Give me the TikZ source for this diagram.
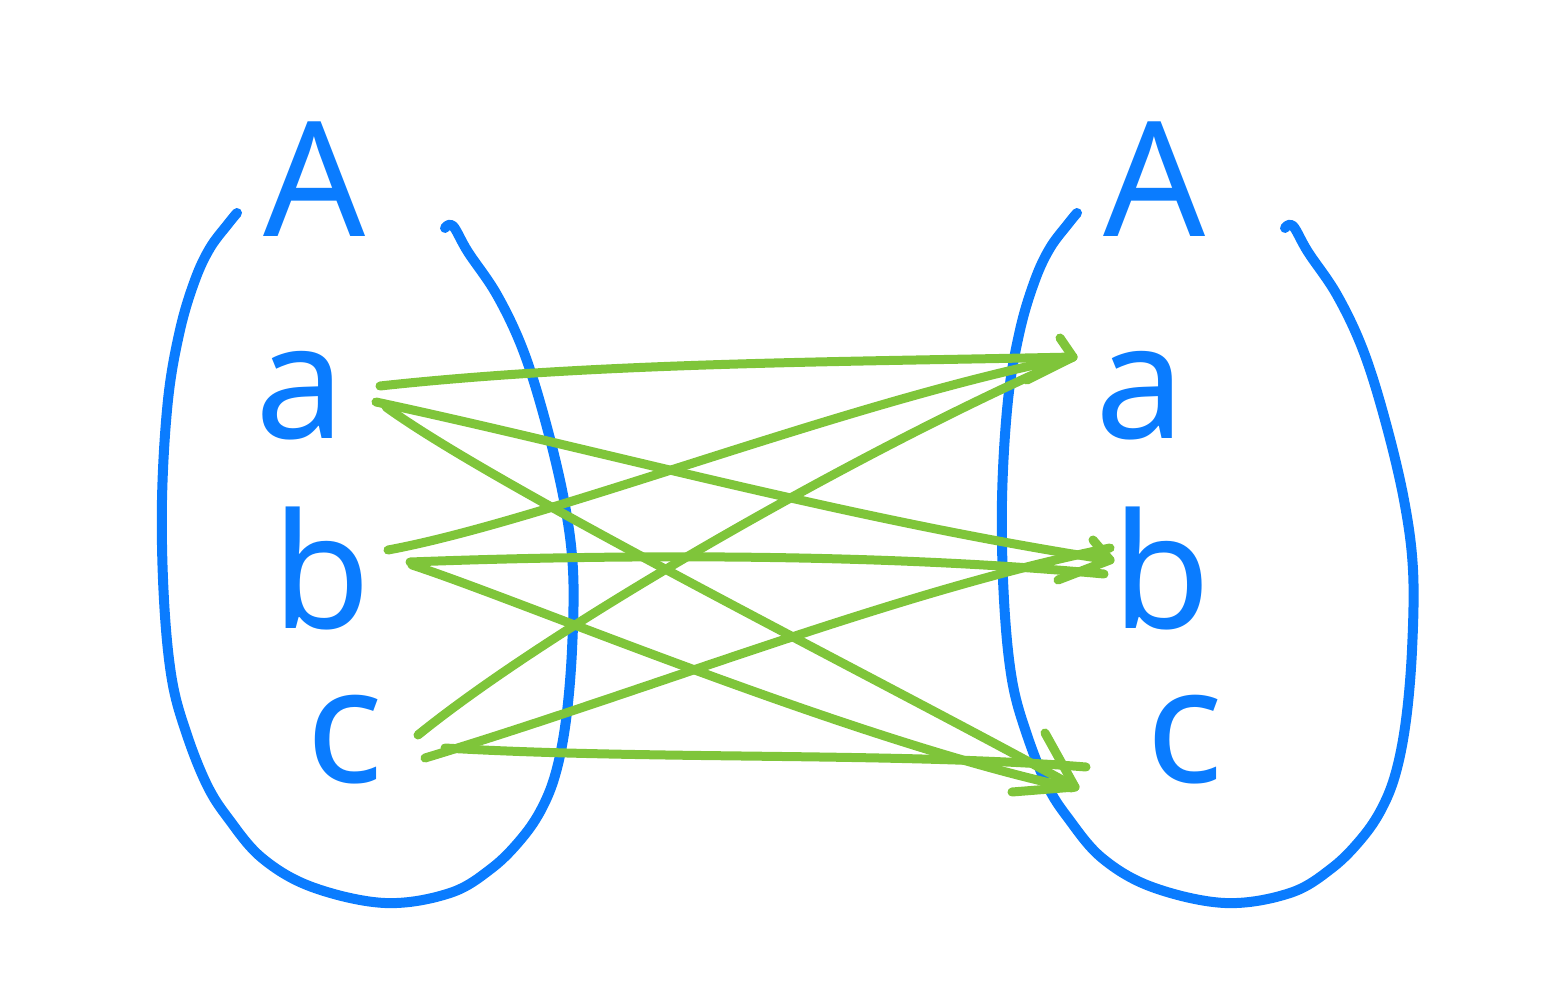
\documentclass[tikz,border=0pt]{standalone}
\usepackage{fontspec}
\setmainfont{Noto Sans}
\usetikzlibrary{calc}
\definecolor{setblue}{HTML}{0A7CFF}
\definecolor{arrgreen}{HTML}{7FC53A}
\tikzset{
  setline/.style={draw=setblue, line width=10pt, line cap=round, line join=round},
  letter/.style={text=setblue, font=\fontsize{160}{160}\selectfont, inner sep=0pt, anchor=base},
  conn/.style={draw=arrgreen, line width=9pt, line cap=round, line join=round},
}
\begin{document}
\begin{tikzpicture}[x=1pt, y=-1pt]
\useasboundingbox (0,0) rectangle (1544,1000);

% the two sets
\foreach \dx in {0,840} {
\begin{scope}[xshift=\dx pt]
\draw[setline] plot[smooth, tension=0.6] coordinates {
 (237,213) (228,224) (210,248) (195,280) (180,330) (168,400) (162,500) (164,600)
 (172,680) (187,735) (207,785) (228,818) (262,858) (312,887) (385,903) (450,893)
 (492,868) (522,838) (542,808) (556,772) (566,720) (572,650) (573,570) (564,500)
 (545,420) (523,350) (497,295) (468,252) (453,226) (445,228)};
\end{scope}
}

% labels
\node[letter] (LA) at (315,237) {A};
\node[letter] (RA) at (1155,237) {A};
\node[letter] (La) at (300,438) {a};
\node[letter] (Ra) at (1140,438) {a};
\node[letter] (Lb) at (322,628) {b};
\node[letter] (Rb) at (1162,628) {b};
\node[letter] (Lc) at (345,782) {c};
\node[letter] (Rc) at (1185,782) {c};

% connector ends
\coordinate (sa1) at (380,386);
\coordinate (sa2) at (376,402);
\coordinate (sa3) at (386,407);
\coordinate (sb1) at (388,550);
\coordinate (sb2) at (410,562);
\coordinate (sb3) at (412,565);
\coordinate (sc1) at (418,735);
\coordinate (sc2) at (425,758);
\coordinate (sc3) at (445,748);

\coordinate (ta) at (1073,357);
\coordinate (tb1) at (1110,560);
\coordinate (tb2) at (1104,574);
\coordinate (tb3) at (1110,548);
\coordinate (tc1) at (1075,787);
\coordinate (tc2) at (1072,788);
\coordinate (tc3) at (1086,767);

% from a
\draw[conn] (sa1) .. controls (600,362) and (850,362) .. (ta);
\draw[conn] (sa2) .. controls (600,450) and (850,520) .. (tb1);
\draw[conn] (sa3) .. controls (500,490) and (900,690) .. (tc1);
% from b
\draw[conn] (sb1) .. controls (550,520) and (850,400) .. (ta);
\draw[conn] (sb2) .. controls (650,553) and (900,555) .. (tb2);
\draw[conn] (sb3) .. controls (520,600) and (850,740) .. (tc2);
% from c
\draw[conn] (sc1) .. controls (560,620) and (880,440) .. (ta);
\draw[conn] (sc2) .. controls (650,690) and (900,590) .. (tb3);
\draw[conn] (sc3) .. controls (650,760) and (900,752) .. (tc3);

% hand-drawn arrowheads
\draw[conn] ($(ta)+(-13,-19)$) -- (ta) -- ($(ta)+(-46,23)$);
\draw[conn] ($(tb1)+(-17,-20)$) -- (tb1) -- ($(tb1)+(-52,20)$);
\draw[conn] ($(tc1)+(-30,-54)$) -- (tc1) -- ($(tc1)+(-63,5)$);
\end{tikzpicture}
\end{document}
